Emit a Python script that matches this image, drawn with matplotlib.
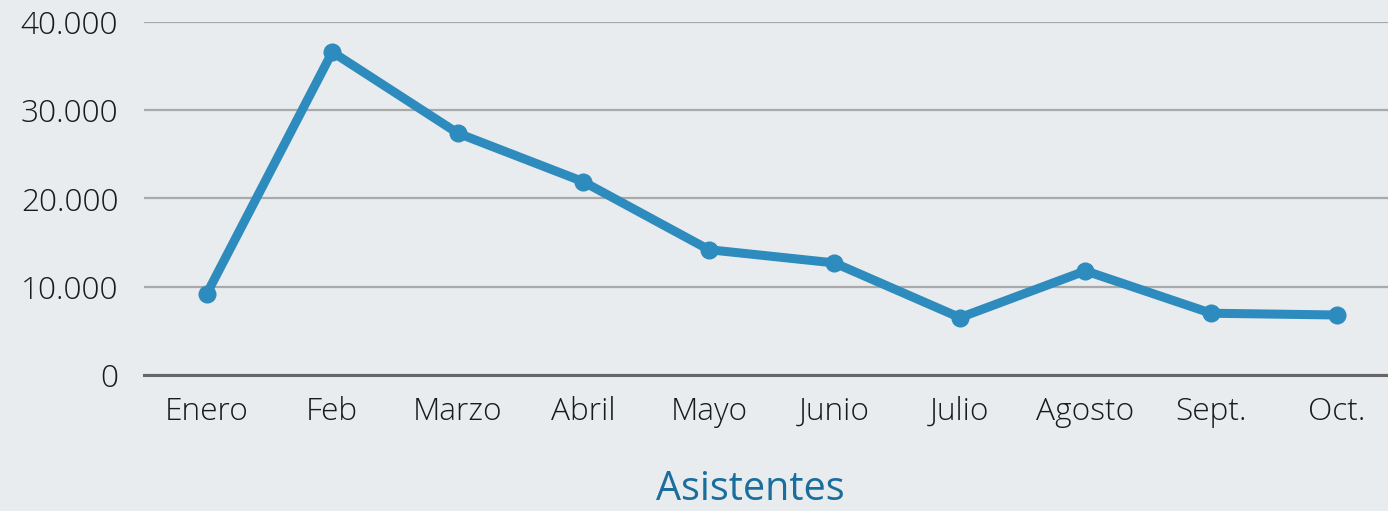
import matplotlib.pyplot as plt
from matplotlib.ticker import FuncFormatter

months = ["Enero", "Feb", "Marzo", "Abril", "Mayo", "Junio", "Julio", "Agosto", "Sept.", "Oct."]
asistentes = [9200, 36600, 27400, 21900, 14200, 12700, 6500, 11800, 7000, 6800]
yticks = [0, 10000, 20000, 30000, 40000]

bg = "#e8ecef"
plt.rcParams['font.family'] = ['Open Sans', 'DejaVu Sans']

fig = plt.figure(figsize=(13.88, 5.11), dpi=100, facecolor=bg)
ax = fig.add_axes([144/1388, 1 - 375/511, (1388-144)/1388, (375-22)/511])
ax.set_facecolor(bg)

x = list(range(len(months)))
ax.plot(x, asistentes, color="#2e8bbd", lw=6.5, marker="o", ms=12,
        solid_capstyle="round", solid_joinstyle="round", zorder=3)

ax.set_xlim(-0.5, 9.41)
ax.set_ylim(0, 40000)
ax.set_yticks(yticks)
ax.yaxis.set_major_formatter(FuncFormatter(lambda v, p: f"{int(v):,}".replace(",", ".")))
ax.set_xticks(x)
ax.set_xticklabels(months)

ax.grid(axis="y", color="#aaaaaa", lw=1.6)
ax.set_axisbelow(True)
for s in ["top", "right", "left"]:
    ax.spines[s].set_visible(False)
ax.spines["bottom"].set_color("#666666")
ax.spines["bottom"].set_linewidth(2.2)
ax.spines["bottom"].set_zorder(2)

ax.tick_params(axis="both", length=0, labelsize=22.8, labelcolor="#1a1a1a")
ax.tick_params(axis="x", pad=15)
ax.tick_params(axis="y", pad=18.5)
for lbl in ax.get_xticklabels() + ax.get_yticklabels():
    lbl.set_fontweight("light")

fig.text(750/1388, 1 - 490/511, "Asistentes", ha="center", va="center",
         fontsize=28.5, color="#1a6e9e")

fig.savefig("out.png", dpi=100, facecolor=bg)
